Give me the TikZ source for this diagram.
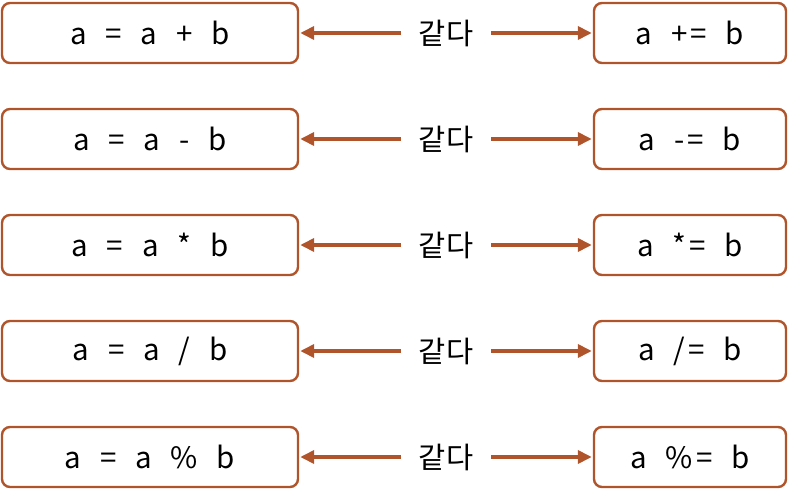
\documentclass[tikz,border=0pt]{standalone}
\usepackage{fontspec}
\setmainfont{Noto Sans CJK KR}
\usetikzlibrary{arrows.meta}
\definecolor{rust}{RGB}{176,84,44}
\tikzset{
	box/.style={draw=rust,line width=2.4pt,rounded corners=8pt,
		minimum height=60pt,inner sep=0pt,fill=white},
	lbox/.style={box,minimum width=296pt},
	rbox/.style={box,minimum width=192pt},
	same/.style={inner xsep=18pt,inner ysep=0pt},
	link/.style={draw=rust,line width=3.6pt,-{Triangle[length=14pt,width=13pt]},shorten >=1pt}
}
\newcommand{\gp}{\hspace{0.64em}}
\newcommand{\hp}{\hspace{0.1em}}
\begin{document}
\begin{tikzpicture}[x=1pt,y=-1pt,font=\fontsize{29.5}{34}\selectfont]
	\useasboundingbox (0,0) rectangle (790,500);
	% left column
	\node[lbox] (l1) at (150,33) {a\gp=\gp a\gp+\gp b};
	\node[lbox] (l2) at (150,139) {a\gp=\gp a\gp-\gp b};
	\node[lbox] (l3) at (150,245) {a\gp=\gp a\gp*\gp b};
	\node[lbox] (l4) at (150,351) {a\gp=\gp a\gp/\gp b};
	\node[lbox] (l5) at (150,457) {a\gp=\gp a\gp\%\gp b};
	% right column
	\node[rbox] (r1) at (690,33) {a\gp+\hp=\gp b};
	\node[rbox] (r2) at (690,139) {a\gp-\hp=\gp b};
	\node[rbox] (r3) at (690,245) {a\gp*\hp=\gp b};
	\node[rbox] (r4) at (690,351) {a\gp/\hp=\gp b};
	\node[rbox] (r5) at (690,457) {a\gp\%\hp=\gp b};
	% middle
	\node[same] (s1) at (446,33) {같다};
	\node[same] (s2) at (446,139) {같다};
	\node[same] (s3) at (446,245) {같다};
	\node[same] (s4) at (446,351) {같다};
	\node[same] (s5) at (446,457) {같다};
	\draw[link] (s1) -- (l1); \draw[link] (s1) -- (r1);
	\draw[link] (s2) -- (l2); \draw[link] (s2) -- (r2);
	\draw[link] (s3) -- (l3); \draw[link] (s3) -- (r3);
	\draw[link] (s4) -- (l4); \draw[link] (s4) -- (r4);
	\draw[link] (s5) -- (l5); \draw[link] (s5) -- (r5);
\end{tikzpicture}
\end{document}
